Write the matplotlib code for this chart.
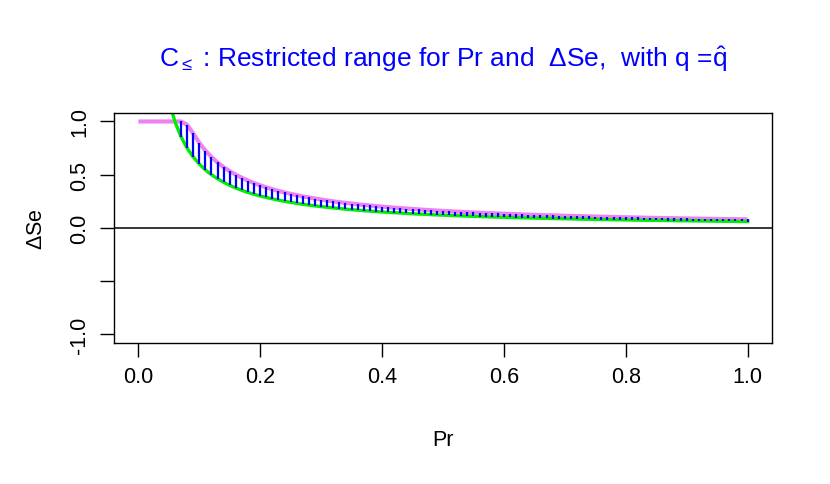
import numpy as np
import matplotlib
matplotlib.use("Agg")
from matplotlib import pyplot as plt

plt.rcParams['font.family'] = ['Liberation Sans', 'DejaVu Sans']
plt.rcParams['mathtext.fontset'] = 'custom'
plt.rcParams['mathtext.rm'] = 'Liberation Sans'
plt.rcParams['mathtext.it'] = 'Liberation Sans'

# Pr grid for the two boundary curves
pr = [0.05, 0.06, 0.07, 0.08, 0.09, 0.10, 0.11, 0.12, 0.13, 0.14, 0.15, 0.16, 0.17, 0.18,
      0.19, 0.20, 0.21, 0.22, 0.23, 0.24, 0.25, 0.26, 0.27, 0.28, 0.29, 0.30, 0.31, 0.32,
      0.33, 0.34, 0.35, 0.36, 0.37, 0.38, 0.39, 0.40, 0.41, 0.42, 0.43, 0.44, 0.45, 0.46,
      0.47, 0.48, 0.49, 0.50, 0.51, 0.52, 0.53, 0.54, 0.55, 0.56, 0.57, 0.58, 0.59, 0.60,
      0.61, 0.62, 0.63, 0.64, 0.65, 0.66, 0.67, 0.68, 0.69, 0.70, 0.71, 0.72, 0.73, 0.74,
      0.75, 0.76, 0.77, 0.78, 0.79, 0.80, 0.81, 0.82, 0.83, 0.84, 0.85, 0.86, 0.87, 0.88,
      0.89, 0.90, 0.91, 0.92, 0.93, 0.94, 0.95, 0.96, 0.97, 0.98, 0.99, 1.00]

# upper bound (violet)
upper = [1.0, 1.0, 1.0, 0.97, 0.889, 0.8, 0.727, 0.667, 0.615, 0.571, 0.533, 0.5, 0.471, 0.444,
         0.421, 0.4, 0.381, 0.364, 0.348, 0.333, 0.32, 0.308, 0.296, 0.286, 0.276, 0.267, 0.258, 0.25,
         0.242, 0.235, 0.229, 0.222, 0.216, 0.211, 0.205, 0.2, 0.195, 0.19, 0.186, 0.182, 0.178, 0.174,
         0.17, 0.167, 0.163, 0.16, 0.157, 0.154, 0.151, 0.148, 0.145, 0.143, 0.14, 0.138, 0.136, 0.133,
         0.131, 0.129, 0.127, 0.125, 0.123, 0.121, 0.119, 0.118, 0.116, 0.114, 0.113, 0.111, 0.11, 0.108,
         0.107, 0.105, 0.104, 0.103, 0.101, 0.1, 0.099, 0.098, 0.096, 0.095, 0.094, 0.093, 0.092, 0.091,
         0.09, 0.089, 0.088, 0.087, 0.086, 0.085, 0.084, 0.083, 0.082, 0.082, 0.081, 0.08]

# lower bound (green)
lower = [1.2, 1.0, 0.857, 0.75, 0.667, 0.6, 0.545, 0.5, 0.462, 0.429, 0.4, 0.375, 0.353, 0.333,
         0.316, 0.3, 0.286, 0.273, 0.261, 0.25, 0.24, 0.231, 0.222, 0.214, 0.207, 0.2, 0.194, 0.188,
         0.182, 0.176, 0.171, 0.167, 0.162, 0.158, 0.154, 0.15, 0.146, 0.143, 0.14, 0.136, 0.133, 0.13,
         0.128, 0.125, 0.122, 0.12, 0.118, 0.115, 0.113, 0.111, 0.109, 0.107, 0.105, 0.103, 0.102, 0.1,
         0.098, 0.097, 0.095, 0.094, 0.092, 0.091, 0.09, 0.088, 0.087, 0.086, 0.085, 0.083, 0.082, 0.081,
         0.08, 0.079, 0.078, 0.077, 0.076, 0.075, 0.074, 0.073, 0.072, 0.071, 0.071, 0.07, 0.069, 0.068,
         0.067, 0.067, 0.066, 0.065, 0.065, 0.064, 0.063, 0.063, 0.062, 0.061, 0.061, 0.06]

# flat start of the violet line
flat_pr = [0.0, 0.05]
flat_val = [1.0, 1.0]

xticks = [0.0, 0.2, 0.4, 0.6, 0.8, 1.0]
yticks = [-1.0, -0.5, 0.0, 0.5, 1.0]
ytick_labels = ['-1.0', '', '0.0', '0.5', '1.0']

fig = plt.figure(figsize=(8.3, 4.85), dpi=100)
ax = fig.add_axes([0.1373, 0.291, 0.7928, 0.474])

ax.plot(flat_pr + pr[1:], flat_val + upper[1:], color='violet', lw=3, solid_capstyle='butt')
ax.plot(pr, lower, color='#00EE00', lw=2.4)
ax.vlines(pr[2:], lower[2:], upper[2:], color='blue', lw=1.6)
ax.axhline(0, color='black', lw=1.1)

ax.set_xlim(-0.04, 1.04)
ax.set_ylim(-1.08, 1.08)
ax.set_xticks(xticks)
ax.set_xticklabels(['%.1f' % v for v in xticks])
ax.set_yticks(yticks)
ax.set_yticklabels(ytick_labels, rotation=90, va='center')
ax.tick_params(labelsize=15.5, length=10, width=1, pad=7)
for s in ax.spines.values():
    s.set_linewidth(1)

ax.set_xlabel('Pr', fontsize=15.5, labelpad=30)
ax.set_ylabel(r'$\Delta$Se', fontsize=15.5, labelpad=16)
ax.set_title(r'$\mathrm{C}_{\leq}$ : Restricted range for Pr and  $\Delta$Se,  with q =$\hat{\mathrm{q}}$',
             color='blue', fontsize=19, pad=34)

fig.savefig('out.png', dpi=100)
